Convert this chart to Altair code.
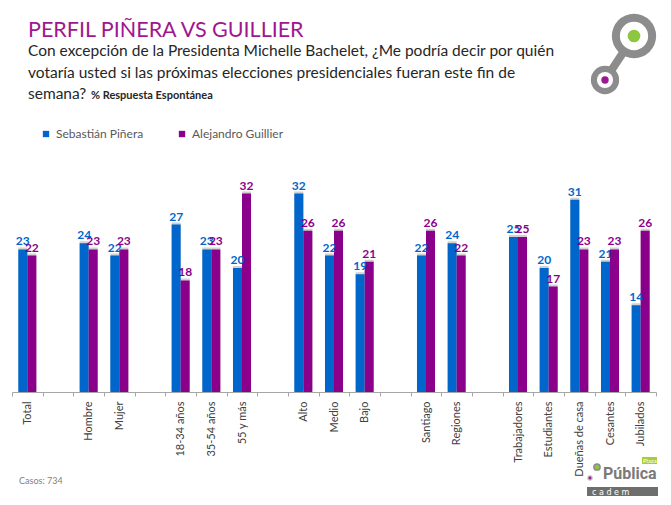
import altair as alt
import pandas as pd

# ---- data ----
categories = ["Total", "_s1", "Hombre", "Mujer", "_s2", "18-34 años", "35-54 años", "55 y más", "_s3",
              "Alto", "Medio", "Bajo", "_s4", "Santiago", "Regiones", "_s5",
              "Trabajadores", "Estudiantes", "Dueñas de casa", "Cesantes", "Jubilados"]
real_categories = ["Total", "Hombre", "Mujer", "18-34 años", "35-54 años", "55 y más",
                   "Alto", "Medio", "Bajo", "Santiago", "Regiones",
                   "Trabajadores", "Estudiantes", "Dueñas de casa", "Cesantes", "Jubilados"]
pinera = [23, 24, 22, 27, 23, 20, 32, 22, 19, 22, 24, 25, 20, 31, 21, 14]
guillier = [22, 23, 23, 18, 23, 32, 26, 26, 21, 26, 22, 25, 17, 23, 23, 26]
series = ["Sebastián Piñera", "Alejandro  Guillier"]
colors = ["#0066CC", "#8B008B"]

rows = []
for c, p, g in zip(real_categories, pinera, guillier):
    rows.append({"cat": c, "series": series[0], "value": p})
    rows.append({"cat": c, "series": series[1], "value": g})
df = pd.DataFrame(rows)

FONT = "Lato"

x_enc = alt.X("cat:N", sort=None,
              scale=alt.Scale(domain=categories, paddingInner=0, paddingOuter=0),
              axis=alt.Axis(title=None, labelAngle=-90, tickBand="extent",
                            labelExpr="indexof(datum.label, '_s') == 0 ? '' : datum.label",
                            labelFont=FONT, labelFontSize=11, labelColor="#404040",
                            domainColor="#A6A6A6", tickColor="#A6A6A6", tickSize=4,
                            labelPadding=5, grid=False))
xo_enc = alt.XOffset("series:N", sort=series,
                     scale=alt.Scale(domain=series, paddingInner=0, paddingOuter=0.7))
y_enc = alt.Y("value:Q", scale=alt.Scale(domain=[0, 35]), axis=None)

base = alt.Chart(df)

shadow = base.mark_bar(color="#BDBDBD", opacity=0.7, xOffset=2, yOffset=-2).encode(
    x=x_enc, xOffset=xo_enc, y=y_enc)

bars = base.mark_bar().encode(
    x=x_enc, xOffset=xo_enc, y=y_enc,
    color=alt.Color("series:N", sort=series,
                    scale=alt.Scale(domain=series, range=colors),
                    legend=alt.Legend(orient="none", legendX=28, legendY=-47,
                                      direction="horizontal", title=None,
                                      symbolType="square", symbolSize=40,
                                      labelFont=FONT, labelFontSize=12,
                                      labelColor="#595959", columnPadding=32)))

labels = base.mark_text(dy=-8, fontWeight="bold", fontSize=12, font=FONT).encode(
    x=x_enc, xOffset=xo_enc, y=y_enc, text="value:Q",
    color=alt.Color("series:N", sort=series,
                    scale=alt.Scale(domain=series, range=colors), legend=None))


def txt(s, x, y, **kw):
    return alt.Chart(alt.Data(values=[{"t": s}])).mark_text(
        align="left", baseline="alphabetic", **kw).encode(
        text="t:N", x=alt.value(x - 12), y=alt.value(y - 175))


title = txt("PERFIL PIÑERA VS GUILLIER", 28, 37, fontSize=21.5, color="#A0168E", font=FONT)
sub1 = txt("Con excepción de la Presidenta Michelle Bachelet, ¿Me podría decir por quién",
           28, 56, fontSize=15.5, color="#262626", font=FONT)
sub2 = txt("votaría usted si las próximas elecciones presidenciales fueran este fin de",
           28, 78, fontSize=15.5, color="#262626", font=FONT)
sub3 = txt("semana?", 28, 99, fontSize=15.5, color="#262626", font=FONT)
sub3b = txt("% Respuesta Espontánea", 91, 99, fontSize=11, fontWeight="bold", color="#262626", font=FONT)
foot = txt("Casos: 734", 19, 484, fontSize=9, color="#7F7F7F", font=FONT)


def dot(x, y, size, color):
    return alt.Chart(alt.Data(values=[{}])).mark_circle(size=size, color=color, opacity=1).encode(
        x=alt.value(x - 12), y=alt.value(y - 175))


connector = alt.Chart(alt.Data(values=[{}])).mark_rule(color="#8C8C8C", strokeWidth=8).encode(
    x=alt.value(605 - 12), x2=alt.value(634 - 12), y=alt.value(80 - 175), y2=alt.value(36 - 175))
logo = [connector,
        dot(634, 36, 1960, "#8C8C8C"), dot(634, 36, 800, "#FFFFFF"), dot(634, 36, 160, "#8DC63F"),
        dot(605, 80, 800, "#8C8C8C"), dot(605, 80, 260, "#FFFFFF"), dot(605, 80, 55, "#A0168E")]

blogo_bar = alt.Chart(alt.Data(values=[{}])).mark_rect(color="#6E6E6E").encode(
    x=alt.value(587 - 12), x2=alt.value(658 - 12), y=alt.value(487 - 175), y2=alt.value(496 - 175))
blogo = [blogo_bar,
         txt("c    a    d    e    m", 592, 494.5, fontSize=8, color="#FFFFFF", font="DejaVu Sans"),
         txt("Pública", 603, 479, fontSize=16, fontWeight="bold", color="#7A7A7A",
             font="Roboto"),
         dot(597, 467, 60, "#8C8C8C"), dot(597, 467, 20, "#8DC63F"),
         dot(590, 478, 30, "#BFBFBF"), dot(590, 478, 8, "#A0168E"),
         alt.Chart(alt.Data(values=[{}])).mark_rect(color="#A6CE39").encode(
             x=alt.value(642 - 12), x2=alt.value(657 - 12), y=alt.value(457 - 175), y2=alt.value(464 - 175)),
         txt("Plaza", 643, 463, fontSize=6, color="#FFFFFF", font=FONT)]

chart = alt.layer(shadow, bars, labels, title, sub1, sub2, sub3, sub3b, foot, *logo, *blogo).properties(
    width=644, height=217,
    padding={"left": 4, "top": 167, "right": 7, "bottom": 112},
    autosize=alt.AutoSizeParams(type="none"),
    background="white",
).configure_view(stroke=None).resolve_scale(color="independent")

chart.save("out.html", embed_options={"renderer": "svg", "actions": False})
